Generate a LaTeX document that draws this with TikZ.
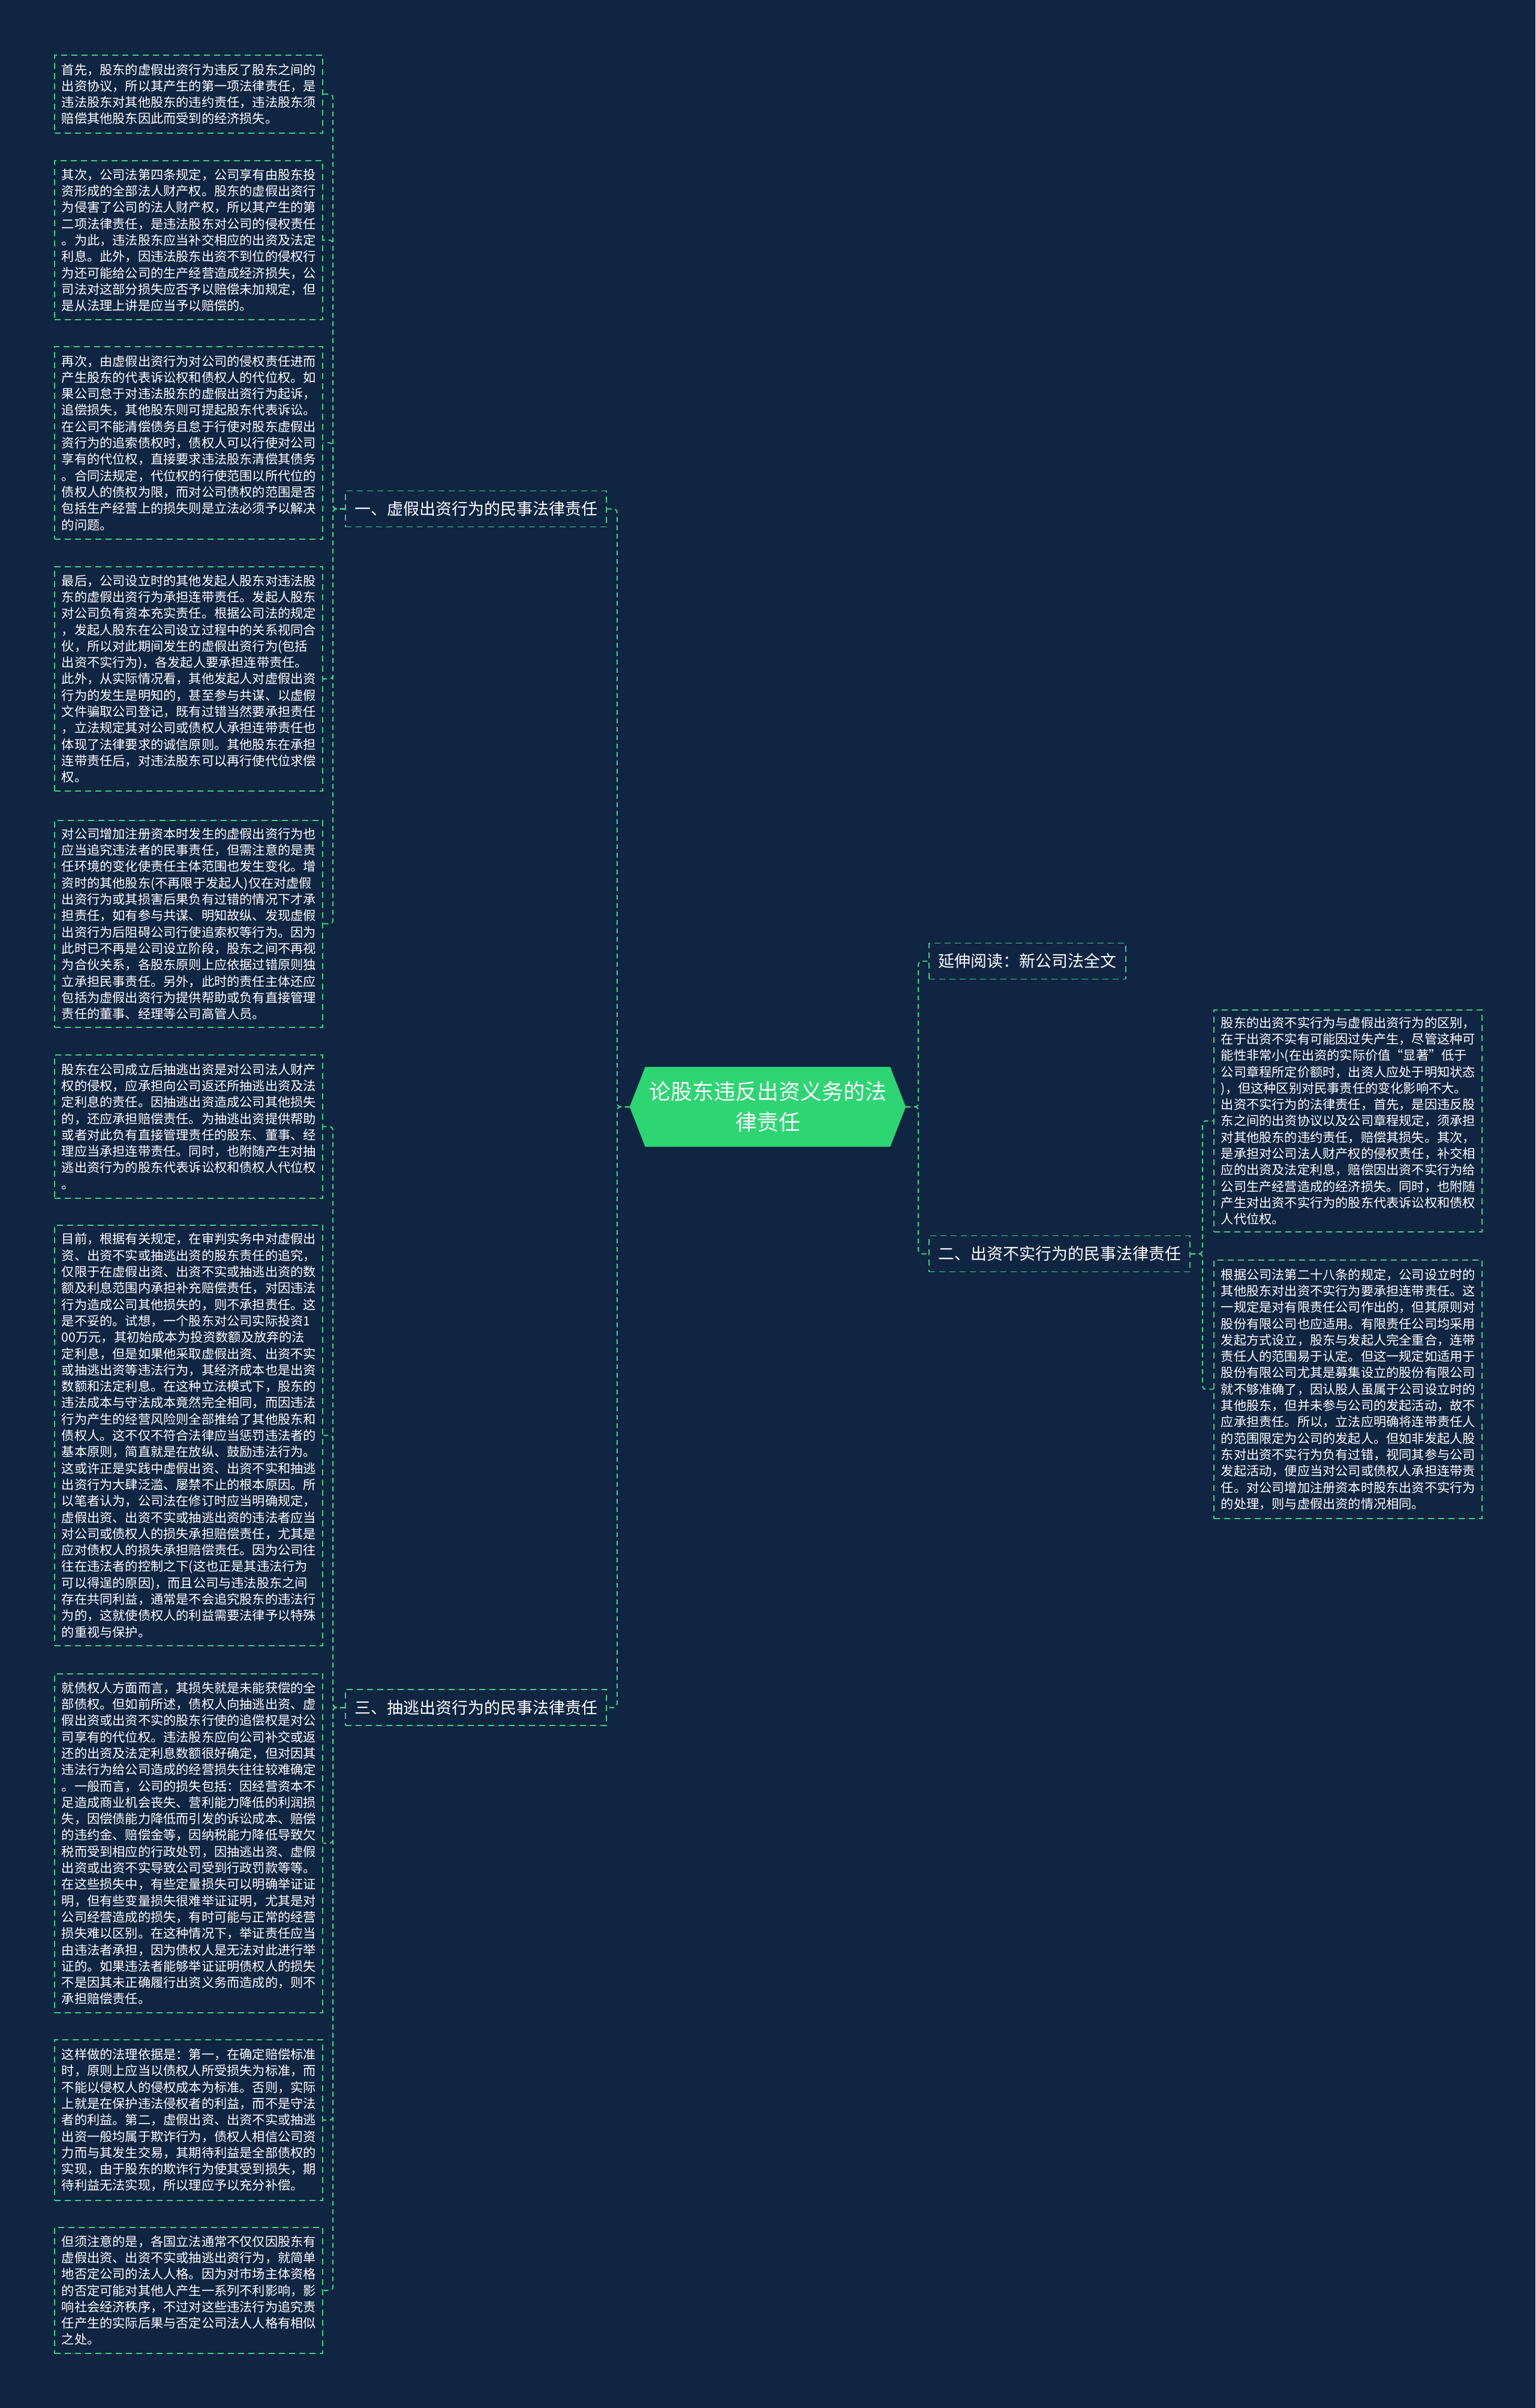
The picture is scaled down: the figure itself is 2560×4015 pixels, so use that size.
\documentclass[tikz,border=0pt]{standalone}
\usepackage{fontspec}
\setmainfont{Noto Sans CJK SC}
\usetikzlibrary{backgrounds}
\definecolor{bgblue}{HTML}{0F2541}
\definecolor{lgreen}{HTML}{3BD37F}
\definecolor{rootgreen}{HTML}{2ED573}
\begin{document}
\begin{tikzpicture}[x=1pt,y=-1pt,
  leafbox/.style={anchor=north west, draw=lgreen, line width=1.8pt, dash pattern=on 10pt off 7pt,
    minimum width=447pt, text width=423pt, inner xsep=12pt, inner ysep=0pt, align=left,
    font=\fontsize{21.2pt}{27.3pt}\selectfont, text=white},
  branchbox/.style={draw=lgreen, line width=1.8pt, dash pattern=on 10pt off 7pt,
    minimum height=60pt, inner xsep=0pt, inner ysep=0pt, align=center,
    font=\fontsize{27pt}{32pt}\selectfont, text=white},
  rootbox/.style={minimum width=460pt, minimum height=133pt, inner sep=0pt, align=center,
    font=\fontsize{36pt}{51pt}\selectfont, text=white},
  conn/.style={draw=lgreen, line width=2pt, dash pattern=on 8pt off 6pt, rounded corners=6pt}
]
\useasboundingbox (0,0) rectangle (2560,4015);

% root
\node[rootbox] (root) at (1280,1845.5) {论股东违反出资义务的法\\律责任};

% branches
\node[branchbox, minimum width=435pt] (b1) at (793.5,848.5) {一、虚假出资行为的民事法律责任};
\node[branchbox, minimum width=328pt] (bx) at (1713,1602.5) {延伸阅读：新公司法全文};
\node[branchbox, minimum width=435pt] (b2) at (1766.5,2090.5) {二、出资不实行为的民事法律责任};
\node[branchbox, minimum width=435pt] (b3) at (793.5,2847) {三、抽逃出资行为的民事法律责任};

% left leaves
\node[leafbox, minimum height=130pt] (L1) at (90,91) {首先，股东的虚假出资行为违反了股东之间的\\
出资协议，所以其产生的第一项法律责任，是\\
违法股东对其他股东的违约责任，违法股东须\\
赔偿其他股东因此而受到的经济损失。};

\node[leafbox, minimum height=265pt] (L2) at (90,267) {其次，公司法第四条规定，公司享有由股东投\\
资形成的全部法人财产权。股东的虚假出资行\\
为侵害了公司的法人财产权，所以其产生的第\\
二项法律责任，是违法股东对公司的侵权责任\\
。为此，违法股东应当补交相应的出资及法定\\
利息。此外，因违法股东出资不到位的侵权行\\
为还可能给公司的生产经营造成经济损失，公\\
司法对这部分损失应否予以赔偿未加规定，但\\
是从法理上讲是应当予以赔偿的。};

\node[leafbox, minimum height=321pt] (L3) at (90,577) {再次，由虚假出资行为对公司的侵权责任进而\\
产生股东的代表诉讼权和债权人的代位权。如\\
果公司怠于对违法股东的虚假出资行为起诉，\\
追偿损失，其他股东则可提起股东代表诉讼。\\
在公司不能清偿债务且怠于行使对股东虚假出\\
资行为的追索债权时，债权人可以行使对公司\\
享有的代位权，直接要求违法股东清偿其债务\\
。合同法规定，代位权的行使范围以所代位的\\
债权人的债权为限，而对公司债权的范围是否\\
包括生产经营上的损失则是立法必须予以解决\\
的问题。};

\node[leafbox, minimum height=374pt] (L4) at (90,944) {最后，公司设立时的其他发起人股东对违法股\\
东的虚假出资行为承担连带责任。发起人股东\\
对公司负有资本充实责任。根据公司法的规定\\
，发起人股东在公司设立过程中的关系视同合\\
伙，所以对此期间发生的虚假出资行为(包括\\
出资不实行为)，各发起人要承担连带责任。\\
此外，从实际情况看，其他发起人对虚假出资\\
行为的发生是明知的，甚至参与共谋、以虚假\\
文件骗取公司登记，既有过错当然要承担责任\\
，立法规定其对公司或债权人承担连带责任也\\
体现了法律要求的诚信原则。其他股东在承担\\
连带责任后，对违法股东可以再行使代位求偿\\
权。};

\node[leafbox, minimum height=345pt] (L5) at (90,1367) {对公司增加注册资本时发生的虚假出资行为也\\
应当追究违法者的民事责任，但需注意的是责\\
任环境的变化使责任主体范围也发生变化。增\\
资时的其他股东(不再限于发起人)仅在对虚假\\
出资行为或其损害后果负有过错的情况下才承\\
担责任，如有参与共谋、明知故纵、发现虚假\\
出资行为后阻碍公司行使追索权等行为。因为\\
此时已不再是公司设立阶段，股东之间不再视\\
为合伙关系，各股东原则上应依据过错原则独\\
立承担民事责任。另外，此时的责任主体还应\\
包括为虚假出资行为提供帮助或负有直接管理\\
责任的董事、经理等公司高管人员。};

\node[leafbox, minimum height=239pt] (L6) at (90,1758) {股东在公司成立后抽逃出资是对公司法人财产\\
权的侵权，应承担向公司返还所抽逃出资及法\\
定利息的责任。因抽逃出资造成公司其他损失\\
的，还应承担赔偿责任。为抽逃出资提供帮助\\
或者对此负有直接管理责任的股东、董事、经\\
理应当承担连带责任。同时，也附随产生对抽\\
逃出资行为的股东代表诉讼权和债权人代位权\\
。};

\node[leafbox, minimum height=701pt] (L7) at (90,2042) {目前，根据有关规定，在审判实务中对虚假出\\
资、出资不实或抽逃出资的股东责任的追究，\\
仅限于在虚假出资、出资不实或抽逃出资的数\\
额及利息范围内承担补充赔偿责任，对因违法\\
行为造成公司其他损失的，则不承担责任。这\\
是不妥的。试想，一个股东对公司实际投资1\\
00万元，其初始成本为投资数额及放弃的法\\
定利息，但是如果他采取虚假出资、出资不实\\
或抽逃出资等违法行为，其经济成本也是出资\\
数额和法定利息。在这种立法模式下，股东的\\
违法成本与守法成本竟然完全相同，而因违法\\
行为产生的经营风险则全部推给了其他股东和\\
债权人。这不仅不符合法律应当惩罚违法者的\\
基本原则，简直就是在放纵、鼓励违法行为。\\
这或许正是实践中虚假出资、出资不实和抽逃\\
出资行为大肆泛滥、屡禁不止的根本原因。所\\
以笔者认为，公司法在修订时应当明确规定，\\
虚假出资、出资不实或抽逃出资的违法者应当\\
对公司或债权人的损失承担赔偿责任，尤其是\\
应对债权人的损失承担赔偿责任。因为公司往\\
往在违法者的控制之下(这也正是其违法行为\\
可以得逞的原因)，而且公司与违法股东之间\\
存在共同利益，通常是不会追究股东的违法行\\
为的，这就使债权人的利益需要法律予以特殊\\
的重视与保护。};

\node[leafbox, minimum height=565pt] (L8) at (90,2790) {就债权人方面而言，其损失就是未能获偿的全\\
部债权。但如前所述，债权人向抽逃出资、虚\\
假出资或出资不实的股东行使的追偿权是对公\\
司享有的代位权。违法股东应向公司补交或返\\
还的出资及法定利息数额很好确定，但对因其\\
违法行为给公司造成的经营损失往往较难确定\\
。一般而言，公司的损失包括：因经营资本不\\
足造成商业机会丧失、营利能力降低的利润损\\
失，因偿债能力降低而引发的诉讼成本、赔偿\\
的违约金、赔偿金等，因纳税能力降低导致欠\\
税而受到相应的行政处罚，因抽逃出资、虚假\\
出资或出资不实导致公司受到行政罚款等等。\\
在这些损失中，有些定量损失可以明确举证证\\
明，但有些变量损失很难举证证明，尤其是对\\
公司经营造成的损失，有时可能与正常的经营\\
损失难以区别。在这种情况下，举证责任应当\\
由违法者承担，因为债权人是无法对此进行举\\
证的。如果违法者能够举证证明债权人的损失\\
不是因其未正确履行出资义务而造成的，则不\\
承担赔偿责任。};

\node[leafbox, minimum height=268pt] (L9) at (90,3400) {这样做的法理依据是：第一，在确定赔偿标准\\
时，原则上应当以债权人所受损失为标准，而\\
不能以侵权人的侵权成本为标准。否则，实际\\
上就是在保护违法侵权者的利益，而不是守法\\
者的利益。第二，虚假出资、出资不实或抽逃\\
出资一般均属于欺诈行为，债权人相信公司资\\
力而与其发生交易，其期待利益是全部债权的\\
实现，由于股东的欺诈行为使其受到损失，期\\
待利益无法实现，所以理应予以充分补偿。};

\node[leafbox, minimum height=210pt] (L10) at (90,3713) {但须注意的是，各国立法通常不仅仅因股东有\\
虚假出资、出资不实或抽逃出资行为，就简单\\
地否定公司的法人人格。因为对市场主体资格\\
的否定可能对其他人产生一系列不利影响，影\\
响社会经济秩序，不过对这些违法行为追究责\\
任产生的实际后果与否定公司法人人格有相似\\
之处。};

% right leaves
\node[leafbox, minimum height=370pt] (R1) at (2023,1683) {股东的出资不实行为与虚假出资行为的区别，\\
在于出资不实有可能因过失产生，尽管这种可\\
能性非常小(在出资的实际价值“显著”低于\\
公司章程所定价额时，出资人应处于明知状态\\
)，但这种区别对民事责任的变化影响不大。\\
出资不实行为的法律责任，首先，是因违反股\\
东之间的出资协议以及公司章程规定，须承担\\
对其他股东的违约责任，赔偿其损失。其次，\\
是承担对公司法人财产权的侵权责任，补交相\\
应的出资及法定利息，赔偿因出资不实行为给\\
公司生产经营造成的经济损失。同时，也附随\\
产生对出资不实行为的股东代表诉讼权和债权\\
人代位权。};

\node[leafbox, minimum height=431pt] (R2) at (2023,2100) {根据公司法第二十八条的规定，公司设立时的\\
其他股东对出资不实行为要承担连带责任。这\\
一规定是对有限责任公司作出的，但其原则对\\
股份有限公司也应适用。有限责任公司均采用\\
发起方式设立，股东与发起人完全重合，连带\\
责任人的范围易于认定。但这一规定如适用于\\
股份有限公司尤其是募集设立的股份有限公司\\
就不够准确了，因认股人虽属于公司设立时的\\
其他股东，但并未参与公司的发起活动，故不\\
应承担责任。所以，立法应明确将连带责任人\\
的范围限定为公司的发起人。但如非发起人股\\
东对出资不实行为负有过错，视同其参与公司\\
发起活动，便应当对公司或债权人承担连带责\\
任。对公司增加注册资本时股东出资不实行为\\
的处理，则与虚假出资的情况相同。};

% connectors
\draw[conn] (root.west) -- ++(-21,0) |- (b1.east);
\draw[conn] (root.west) -- ++(-21,0) |- (b3.east);
\draw[conn] (root.east) -- ++(21,0) |- (bx.west);
\draw[conn] (root.east) -- ++(21,0) |- (b2.west);
\foreach \n in {L1,L2,L3,L4,L5} {\draw[conn] (b1.west) -- ++(-20,0) |- (\n.east);}
\foreach \n in {L6,L7,L8,L9,L10} {\draw[conn] (b3.west) -- ++(-20,0) |- (\n.east);}
\foreach \n in {R1,R2} {\draw[conn] (b2.east) -- ++(20,0) |- (\n.west);}

\begin{scope}[on background layer]
\fill[bgblue] (0,0) rectangle (2560,4015);
\fill[rootgreen] ([xshift=26pt]root.north west) -- ([xshift=-26pt]root.north east) -- (root.east)
  -- ([xshift=-26pt]root.south east) -- ([xshift=26pt]root.south west) -- (root.west) -- cycle;
\end{scope}
\end{tikzpicture}
\end{document}
